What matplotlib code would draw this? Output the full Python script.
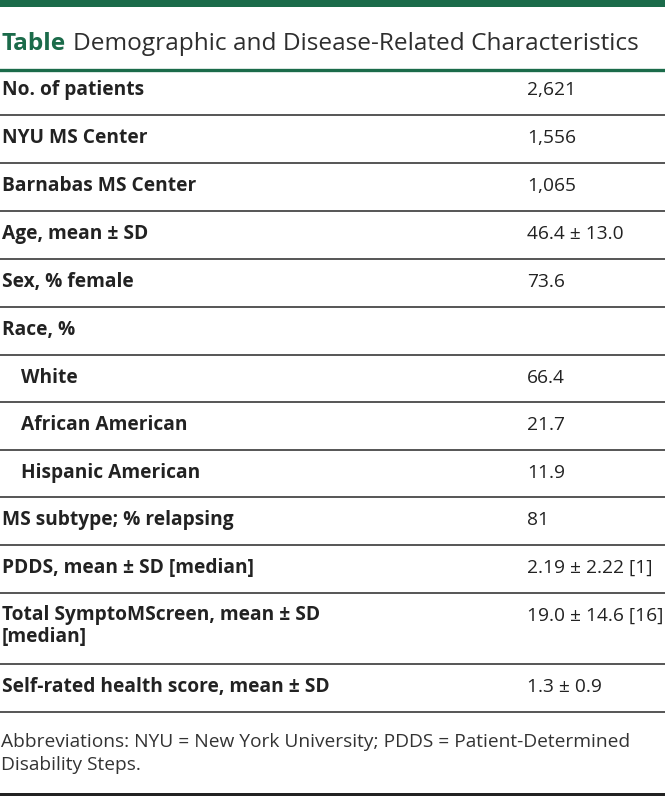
import matplotlib
matplotlib.use("Agg")
import matplotlib.pyplot as plt

labels = ["No. of patients", "NYU MS Center", "Barnabas MS Center", "Age, mean ± SD",
          "Sex, % female", "Race, %", "White", "African American", "Hispanic American",
          "MS subtype; % relapsing", "PDDS, mean ± SD [median]",
          "Total SymptoMScreen, mean ± SD\n[median]", "Self-rated health score, mean ± SD"]
values = ["2,621", "1,556", "1,065", "46.4 ± 13.0", "73.6", "", "66.4", "21.7", "11.9",
          "81", "2.19 ± 2.22 [1]", "19.0 ± 14.6 [16]", "1.3 ± 0.9"]
indent = [0, 0, 0, 0, 0, 0, 1, 1, 1, 0, 0, 0, 0]
title_bold = "Table"
title_rest = "Demographic and Disease-Related Characteristics"
footnote_lines = ["Abbreviations: NYU = New York University; PDDS = Patient-Determined",
                  "Disability Steps."]

# row separator positions (pixels from top)
row_lines = [71, 115, 163, 211, 259, 307, 355, 402, 450, 497, 545, 593, 664, 712]

W, H = 665, 796
fig = plt.figure(figsize=(W / 100, H / 100), dpi=100)
ax = fig.add_axes([0, 0, 1, 1])
ax.set_xlim(0, W)
ax.set_ylim(H, 0)
ax.axis("off")

green = "#1b6b4a"
txt = "#222222"
font = "Open Sans"

# top bar
ax.axhspan(0, 6.5, color=green, lw=0)
# title
t1 = ax.text(1, 44, title_bold, fontsize=17.6, fontweight="bold", color=green,
             family=font, va="center", ha="left")
fig.canvas.draw()
bb = t1.get_window_extent()
ax.text(bb.x1 + 8, 44, title_rest, fontsize=17.6, color="#2e2e2e", family=font,
        va="center", ha="left")

# green line under title
ax.axhline(70, color=green, lw=2.4)

for y in row_lines[1:]:
    ax.axhline(y, color="#555555", lw=1.4)

fs = 13.8
for i, (lab, val) in enumerate(zip(labels, values)):
    top = row_lines[i]
    y = 90 if i == 0 else top + 23
    x = 2 + indent[i] * 19
    if "\n" in lab:
        ax.text(x, y - 11, lab, fontsize=fs, fontweight="bold", color=txt, family=font,
                va="top", ha="left", linespacing=1.15)
    else:
        ax.text(x, y, lab, fontsize=fs, fontweight="bold", color=txt, family=font,
                va="center", ha="left")
    ax.text(527, y, val, fontsize=fs, color=txt, family=font, va="center", ha="left")

for k, line in enumerate(footnote_lines):
    ax.text(1, 742 + 23 * k, line, fontsize=13.8, color="#333333", family=font,
            va="center", ha="left")

ax.axhspan(793, 796, color="#222222", lw=0)

fig.savefig("out.png", dpi=100)
